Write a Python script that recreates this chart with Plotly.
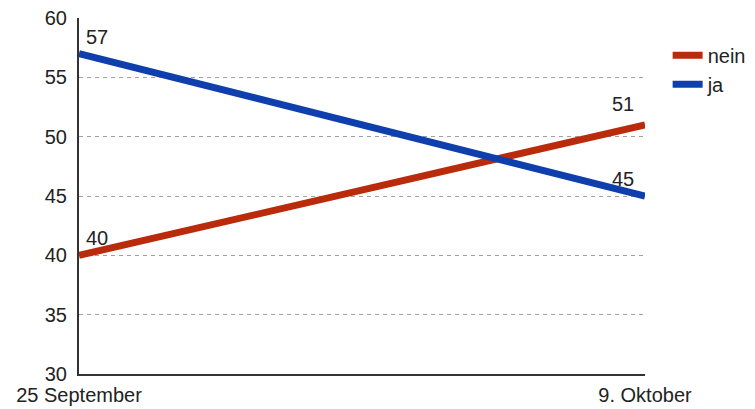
import plotly.graph_objects as go

categories = ["25 September", "9. Oktober"]
nein = [40, 51]
ja = [57, 45]
y_ticks = [30, 35, 40, 45, 50, 55, 60]

red = "#b92b0b"
blue = "#0f3fac"
xs = list(range(len(categories)))

fig = go.Figure()
fig.add_trace(go.Scatter(x=xs, y=nein, name="nein", mode="lines",
                         line=dict(color=red, width=7), cliponaxis=False))
fig.add_trace(go.Scatter(x=xs, y=ja, name="ja", mode="lines",
                         line=dict(color=blue, width=7), cliponaxis=False))

# value labels (first point: above-right, last point: above-left)
for series, ysh_last in ((nein, 8), (ja, 4)):
    for i, v in enumerate(series):
        first = i == 0
        fig.add_annotation(
            x=xs[i], y=v, text=str(v), showarrow=False,
            xanchor="left" if first else "right", yanchor="bottom",
            xshift=5 if first else -9, yshift=4 if first else ysh_last,
            font=dict(size=20, color="#222"),
        )

fig.update_layout(
    width=755, height=409,
    margin=dict(l=79, r=110, t=18, b=35, autoexpand=False),
    paper_bgcolor="white", plot_bgcolor="white",
    font=dict(family="Liberation Sans, Arial, sans-serif", size=20, color="#222"),
    showlegend=True,
    legend=dict(x=1.04, y=0.95, xanchor="left", yanchor="top",
                font=dict(size=20, color="#222"), tracegroupgap=0,
                bgcolor="rgba(0,0,0,0)"),
    xaxis=dict(range=[0, 1], tickvals=xs, ticktext=categories,
               showgrid=False, zeroline=False, showline=True,
               linecolor="#333", linewidth=2, ticks="", fixedrange=True,
               automargin=False, ticklabelstandoff=2),
    yaxis=dict(range=[30, 60], tickvals=y_ticks, showgrid=True,
               gridcolor="#a0a0a0", griddash="4px,4px", gridwidth=1,
               zeroline=False, showline=True, linecolor="#333", linewidth=2,
               ticks="", ticklabelstandoff=6, fixedrange=True,
               automargin=False),
)

fig.write_html("out.html")
